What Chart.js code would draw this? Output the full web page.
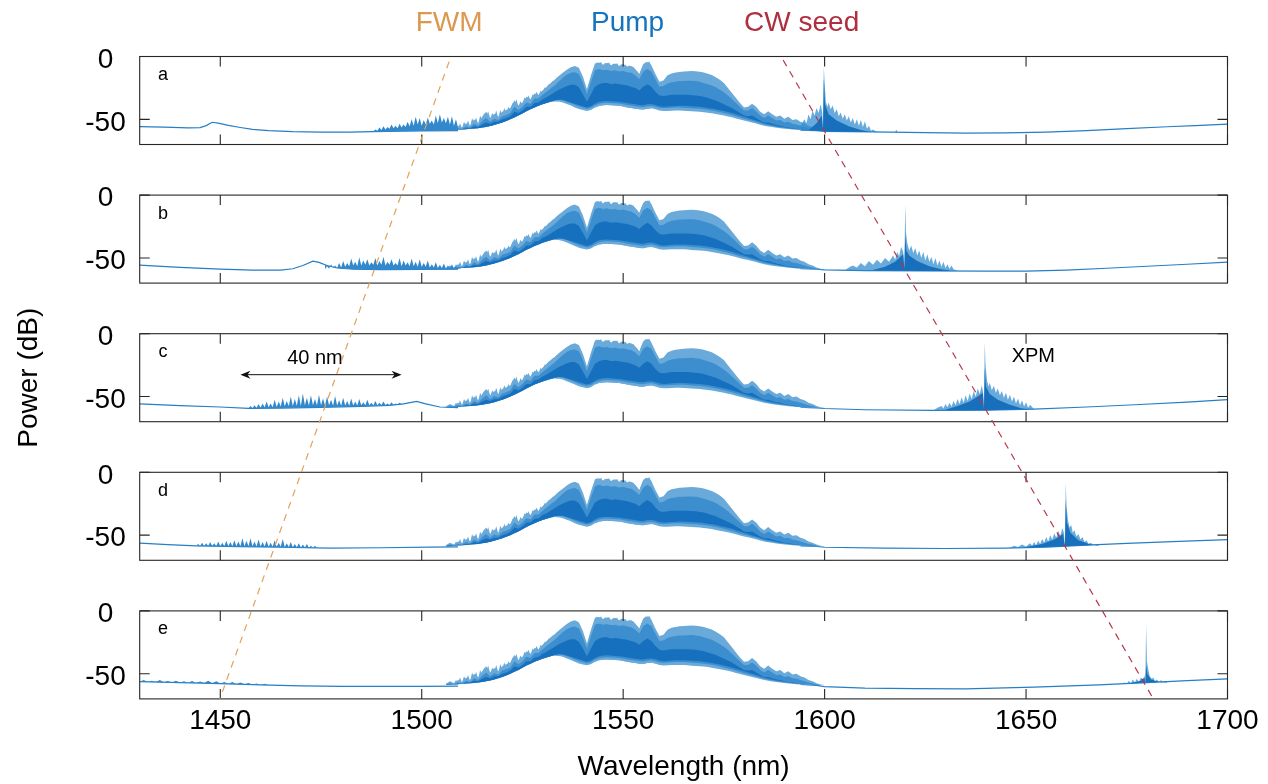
<!DOCTYPE html>
<html>
<head>
<meta charset="utf-8">
<script src="https://cdn.jsdelivr.net/npm/chart.js@4.4.0/dist/chart.umd.min.js"></script>
<style>
  html, body { margin: 0; padding: 0; background: #ffffff; }
  #wrap { position: relative; width: 1268px; height: 784px; overflow: hidden; background: #ffffff; }
  #wrap canvas { position: absolute; left: 0; }
</style>
</head>
<body>
<div id="wrap"></div>
<script>
// ---------------- DATA ----------------
const X_TICKS = [1450, 1500, 1550, 1600, 1650, 1700];
const Y_TICKS = [0, -50];
const PANEL_LETTERS = ['a', 'b', 'c', 'd', 'e'];
const TOP_LABELS = ['FWM', 'Pump', 'CW seed'];
const TOP_LABEL_WL = [1506.8, 1551.1, 1594.3];

// pump spectrum (same in all panels), dB
const PUMP_WL = [1506,1507,1508,1509,1510,1511,1512,1513,1514,1515,1516,1517,1518,1519,1520,1521,1522,1523,1524,1525,1526,1527,1528,1529,1530,1531,1532,1533,1534,1535,1536,1537,1538,1539,1540,1541,1542,1543,1544,1545,1546,1547,1548,1549,1550,1551,1552,1553,1554,1555,1556,1557,1558,1559,1560,1561,1562,1563,1564,1565,1566,1567,1568,1569,1570,1571,1572,1573,1574,1575,1576,1577,1578,1579,1580,1581,1582,1583,1584,1585,1586,1587,1588,1589,1590,1591,1592,1593,1594,1595,1596,1597,1598,1599,1600];
const PUMP_TOP = [-58,-56,-57.5,-55,-56.5,-53,-55,-50,-53,-48,-44,-49,-45.5,-48,-44,-42.5,-41,-35,-39,-36.5,-32,-34,-29.5,-30.5,-27,-24,-21,-18.5,-15.5,-13,-10.5,-8.5,-7.5,-9,-16,-26,-15,-5.5,-4.8,-6.5,-5,-7,-5.5,-7.5,-6,-8,-7.5,-10,-14,-6,-4.3,-7,-14,-20,-19,-15,-13.5,-12.8,-12.3,-12,-11.8,-11.6,-11.8,-12.2,-12.8,-13.8,-14.8,-16.5,-18.5,-21,-25,-29,-33,-37,-40.5,-40,-37.5,-40,-44,-46,-43.5,-46,-48,-47,-49.5,-48,-50.5,-50,-52,-53,-55,-56,-57.5,-58.5,-59];
const PUMP_BOT = [-59,-58.8,-58.5,-58.3,-58,-57.8,-57.5,-57.3,-57,-56.5,-56,-55.3,-54.5,-53.5,-52.5,-51.3,-50,-48.5,-47,-45.3,-43.5,-42,-40.5,-39.2,-38,-37,-36,-35.5,-35.8,-36.5,-37.8,-39,-40.5,-41.8,-42.6,-43.3,-42.5,-40.5,-39.3,-38.8,-38.6,-38.8,-39,-39.2,-39.8,-40.5,-41,-41.5,-42,-42.2,-41.5,-41.2,-42,-43,-43.4,-43.3,-43.1,-43,-43,-43.1,-43.3,-43.6,-43.8,-44,-44.3,-44.7,-45.2,-45.8,-46.4,-47,-47.7,-48.4,-49.3,-50.2,-51,-51.7,-52.5,-53.3,-54.2,-55,-55.6,-56.1,-56.6,-57,-57.4,-57.7,-58,-58.3,-58.5,-58.7,-58.8,-58.9,-59,-59,-59];
const PUMP_MTOP = [-58.5,-57.5,-58,-57,-57.5,-55.5,-56.5,-53.5,-55,-51.5,-49,-52,-49.5,-50.5,-47.5,-46.5,-45,-40,-42.5,-40,-36.5,-37.5,-33.5,-33.5,-30.5,-28,-25.5,-23,-20,-17,-14.5,-13,-12.5,-14,-21,-30,-20,-11,-10,-11,-10.5,-11.5,-11,-12,-11.5,-12.5,-13,-15,-18,-12,-10,-12,-18,-24,-23.5,-21.5,-20.5,-20,-19.5,-19.5,-19.3,-19.2,-19.5,-20,-21,-22,-23,-24.5,-26.5,-28.5,-31,-34,-37,-40,-43,-43,-41,-43.5,-47,-49,-47,-49,-51,-50.5,-52.5,-52,-53.5,-54,-55,-56,-57,-57.5,-58.5,-59,-59];
const PUMP_MBOT = [-58.8,-58.6,-58.3,-58.1,-57.8,-57.6,-57.3,-57.1,-56.8,-56.3,-55.8,-55.1,-54.3,-53.3,-52.3,-51.1,-49.8,-48.3,-46.8,-45.1,-43.3,-41.8,-40.3,-39,-37.8,-36.7,-35.6,-34.8,-34.5,-35,-36,-37.2,-38.6,-39.8,-40.8,-41.6,-40.8,-38.8,-37.6,-37,-36.8,-37,-37.2,-37.4,-38,-38.6,-39,-39.5,-40,-40.2,-39.6,-39.3,-40,-41,-41.2,-41,-40.8,-40.6,-40.6,-40.7,-40.9,-41.2,-41.4,-41.6,-42,-42.4,-42.9,-43.5,-44.2,-45,-45.8,-46.6,-47.6,-48.6,-49.5,-50.3,-51.2,-52.1,-53.1,-54,-54.7,-55.3,-55.9,-56.4,-56.8,-57.2,-57.6,-57.9,-58.2,-58.4,-58.6,-58.7,-58.9,-59,-59];
const PUMP_DTOP = [-58.8,-58.3,-58.3,-58,-57.8,-57,-57,-55.5,-56,-54,-52.5,-53.5,-52,-52,-50,-49,-47.5,-44,-45,-43,-40,-40,-37,-36.5,-34,-32.5,-30.5,-28.5,-26.5,-25,-23.5,-22.5,-22.5,-24.5,-30,-36,-30,-24,-22,-21,-21,-22,-21.5,-22,-22.5,-23,-24,-25,-27,-24,-22,-24,-28,-31,-31.5,-31,-30.5,-30.5,-30.5,-30.5,-30.5,-30.8,-31,-31.5,-32,-33,-34,-35,-36.5,-38,-39.5,-41,-43,-45,-47,-47.5,-47,-49,-51,-52.5,-52.5,-53.5,-54.5,-55,-56,-56.5,-57,-57.5,-58,-58.3,-58.5,-58.7,-58.9,-59,-59];
const PUMP_DBOT = [-59,-58.8,-58.5,-58.3,-58,-57.8,-57.5,-57.3,-57,-56.5,-56,-55.3,-54.5,-53.5,-52.5,-51.3,-50,-48.5,-47,-45.3,-43.5,-42,-40.5,-39.2,-38,-37,-36,-35,-34.5,-34.5,-35.5,-36.5,-37.5,-38.5,-39.5,-40.5,-39.5,-37.5,-36,-35.5,-35.3,-35.5,-35.8,-36,-36.5,-37,-37.5,-38,-38.5,-38.7,-38,-37.8,-38.5,-39.5,-40,-39.8,-39.5,-39.3,-39.2,-39.2,-39.4,-39.6,-39.8,-40,-40.4,-40.9,-41.4,-42,-42.7,-43.4,-44.2,-45,-46,-47,-48,-49,-50,-51,-52,-53,-53.8,-54.5,-55.2,-55.8,-56.3,-56.8,-57.3,-57.7,-58,-58.3,-58.5,-58.7,-58.9,-59,-59];
// fine spikes on the pump's upper edge [wavelength, dB]; null = no spikes
const PUMP_SPIKES = [[1508,-58],[1508.5,-55],[1509,-57],[1509.5,-53],[1510,-57],[1510.5,-52],[1511,-55],[1511.5,-51],[1512,-56],[1512.5,-49],[1513,-53],[1513.5,-48.5],[1514,-54],[1514.5,-47],[1515,-51],[1515.5,-45],[1516,-48],[1516.5,-43.5],[1517,-50],[1517.5,-45],[1518,-48],[1518.5,-43],[1519,-49],[1519.5,-42.5],[1520,-46],[1520.5,-41],[1521,-45],[1521.5,-40],[1522,-43],[1522.5,-37],[1523,-39],[1523.5,-34],[1524,-40],[1524.5,-35.5],[1525,-38],[1525.5,-32.5],[1526,-35],[1526.5,-31],[1527,-35],[1527.5,-30],[1528,-32],[1528.5,-28],[1529,-31.5],[1529.5,-27],[1530,-29],[1530.5,-24.5],[1531,-26],[1531.5,-22],[1532,-23],[1532.5,-19.5],[1533,-20.5],[1533.5,-17],[1534,-17],[1538,null],[1543,-7],[1543.5,-4.5],[1544,-6.5],[1544.5,-4.2],[1545,-7.5],[1545.5,-5],[1546,-6.5],[1546.5,-4.6],[1547,-8],[1547.5,-5.5],[1548,-7],[1548.5,-5.2],[1549,-8.5],[1549.5,-6],[1550,-8],[1550.5,-6.3],[1551,-9],[1551.5,-7],[1552,-9],[1552.5,-8],[1553,-11],[1553.5,-12],[1554,-15],[1554.5,-10],[1555,-7],[1555.5,-4.5],[1556,-5],[1556.5,-4],[1557,-7.5]];

// baselines [wavelength, dB]; null = hidden under the pump
const BASE_A = [[1430,-55.8],[1436,-56.2],[1442,-56.8],[1445,-56.6],[1446.5,-55],[1448,-52.3],[1449.5,-53],[1452,-54.8],[1455,-56.5],[1458,-58],[1462,-59],[1468,-59.8],[1475,-60.2],[1482,-60.2],[1488,-59.8],[1495,-59.4],[1500,-59.2],[1509,-59],[1550,null],[1594,-58.5],[1596,-58.8],[1598,-59],[1600,-59.5],[1612,-60],[1625,-60.6],[1635,-60.9],[1645,-60.7],[1655,-60.2],[1665,-59],[1675,-57.4],[1685,-55.9],[1692,-55],[1700,-53.8]];
const BASE_B = [[1430,-55.7],[1440,-57.5],[1450,-58.9],[1458,-59.6],[1465,-59.6],[1468,-58.6],[1470.5,-56],[1473,-52.5],[1474.5,-53.5],[1476.5,-56],[1479,-58],[1483,-59],[1490,-59.3],[1509,-59],[1550,null],[1594,-58.5],[1596,-58.8],[1598,-59],[1600,-59.5],[1610,-60],[1625,-60.3],[1640,-60.4],[1650,-60.5],[1660,-59.6],[1670,-58.2],[1680,-56.6],[1690,-55],[1700,-53.3]];
const BASE_C = [[1430,-55.9],[1440,-57.2],[1450,-58.3],[1457,-59.4],[1465,-59.2],[1475,-58.6],[1485,-57.8],[1492,-57],[1495.5,-55.8],[1498.7,-53.8],[1501,-55.8],[1504.5,-58.3],[1509,-58.8],[1550,null],[1594,-58.5],[1596,-58.8],[1598,-59],[1600,-59.5],[1610,-60.5],[1627,-61],[1640,-60.8],[1652,-60],[1665,-58.3],[1677,-56.5],[1690,-54.5],[1700,-52.5]];
const BASE_D = [[1430,-56.4],[1437,-57.5],[1444,-58.5],[1455,-59.2],[1465,-59.6],[1477,-60.3],[1490,-60],[1502,-59.5],[1509,-59.3],[1550,null],[1594,-58.5],[1596,-58.8],[1598,-59],[1600,-59.6],[1615,-60.3],[1630,-60.6],[1645,-60.3],[1655,-59.5],[1665,-58],[1675,-56.6],[1688,-55],[1700,-53.5]];
const BASE_E = [[1430,-56.3],[1440,-57],[1450,-57.8],[1460,-58.8],[1470,-59.7],[1480,-60],[1500,-60],[1509,-59.8],[1550,null],[1594,-58.5],[1596,-58.8],[1598,-59.2],[1600,-60.2],[1610,-61.5],[1622,-61.9],[1635,-62],[1652,-60.7],[1668,-58.9],[1680,-57],[1690,-55.5],[1700,-54.1]];

// FWM noise envelopes [wavelength, dB]
const NOISE_A = [[1488,-59.5],[1488.5,-58],[1489,-59],[1489.5,-56.5],[1490,-58.5],[1490.5,-55.5],[1491,-58],[1491.5,-56],[1492,-57.5],[1492.5,-54],[1493,-57],[1493.5,-55],[1494,-57],[1494.5,-53.5],[1495,-56.5],[1495.5,-54],[1496,-56],[1496.5,-52],[1497,-55.5],[1497.5,-50],[1498,-55],[1498.5,-48],[1499,-54],[1499.5,-49],[1500,-55],[1500.5,-50.5],[1501,-54],[1501.5,-48.5],[1502,-53.5],[1502.5,-51],[1503,-54],[1503.5,-47],[1504,-53],[1504.5,-46],[1505,-52.5],[1505.5,-49],[1506,-53],[1506.5,-48],[1507,-54],[1507.5,-47.5],[1508,-55],[1508.5,-50],[1509,-56.5]];
const NOISE_B = [[1476,-59],[1476.5,-56.5],[1477,-58.5],[1477.5,-55],[1478,-58],[1478.5,-56],[1479,-58],[1479.5,-54],[1480,-57.5],[1480.5,-52.5],[1481,-57],[1481.5,-54],[1482,-56.5],[1482.5,-50.5],[1483,-56],[1483.5,-53],[1484,-56.5],[1484.5,-49.5],[1485,-56],[1485.5,-52],[1486,-55.5],[1486.5,-51],[1487,-56],[1487.5,-53.5],[1488,-55.5],[1488.5,-50],[1489,-56],[1489.5,-52.5],[1490,-55.5],[1490.5,-49],[1491,-56],[1491.5,-53],[1492,-55.5],[1492.5,-51],[1493,-56],[1493.5,-54],[1494,-56],[1494.5,-50],[1495,-56.5],[1495.5,-52],[1496,-56],[1496.5,-53.5],[1497,-56.5],[1497.5,-50.5],[1498,-56.5],[1498.5,-53],[1499,-57],[1499.5,-51],[1500,-57],[1500.5,-54],[1501,-57],[1501.5,-52],[1502,-57.5],[1502.5,-55],[1503,-57.5],[1503.5,-53.5],[1504,-58],[1504.5,-55.5],[1505,-58],[1505.5,-54.5],[1506,-58.3],[1506.5,-56],[1507,-58.5],[1507.5,-55],[1508,-58.5],[1508.5,-56.5],[1509,-58.5]];
const NOISE_C = [[1457,-59.4],[1457.5,-57.5],[1458,-59.3],[1458.5,-57],[1459,-59.2],[1459.5,-56],[1460,-59],[1460.5,-55.5],[1461,-58.8],[1461.5,-54],[1462,-58.6],[1462.5,-55.5],[1463,-58.5],[1463.5,-52.5],[1464,-58.3],[1464.5,-54],[1465,-58],[1465.5,-51],[1466,-57.8],[1466.5,-53.5],[1467,-57.5],[1467.5,-50],[1468,-57.5],[1468.5,-52],[1469,-57.3],[1469.5,-49],[1470,-57.5],[1470.5,-47.5],[1471,-57],[1471.5,-51],[1472,-57.2],[1472.5,-49],[1473,-57],[1473.5,-52],[1474,-57],[1474.5,-48.5],[1475,-57],[1475.5,-51.5],[1476,-57.2],[1476.5,-50],[1477,-57],[1477.5,-52.5],[1478,-57.3],[1478.5,-49.5],[1479,-57.2],[1479.5,-53],[1480,-57.3],[1480.5,-51],[1481,-57.2],[1481.5,-53.5],[1482,-57.3],[1482.5,-51.5],[1483,-57.2],[1483.5,-54],[1484,-57.2],[1484.5,-52],[1485,-57],[1485.5,-54.5],[1486,-57],[1486.5,-52.5],[1487,-57],[1487.5,-55],[1488,-57],[1488.5,-53.5],[1489,-57],[1489.5,-55],[1490,-56.8],[1490.5,-54],[1491,-56.8],[1491.5,-55.5],[1492,-56.7],[1492.5,-54.5],[1493,-56.5],[1493.5,-55.5],[1494,-56.3],[1494.5,-55],[1495,-56.2],[1496,-55.8]];
const NOISE_D = [[1444,-58.5],[1444.5,-57],[1445,-58.5],[1445.5,-56],[1446,-58.6],[1446.5,-56.5],[1447,-58.7],[1447.5,-55.5],[1448,-58.7],[1448.5,-56.5],[1449,-58.8],[1449.5,-55],[1450,-58.8],[1450.5,-56],[1451,-58.8],[1451.5,-54.5],[1452,-58.8],[1452.5,-55.5],[1453,-58.8],[1453.5,-54],[1454,-58.9],[1454.5,-55],[1455,-58.8],[1455.5,-52.5],[1456,-58.8],[1456.5,-54.5],[1457,-58.8],[1457.5,-52.5],[1458,-58.9],[1458.5,-55],[1459,-59],[1459.5,-53.5],[1460,-59],[1460.5,-55.5],[1461,-59],[1461.5,-54.5],[1462,-59.2],[1462.5,-56],[1463,-59.2],[1463.5,-54],[1464,-59.3],[1464.5,-56],[1465,-59.3],[1465.5,-53],[1466,-59.4],[1466.5,-56.5],[1467,-59.5],[1467.5,-55.5],[1468,-59.6],[1468.5,-57],[1469,-59.7],[1469.5,-56.5],[1470,-59.8],[1470.5,-57.5],[1471,-59.9],[1471.5,-57],[1472,-60],[1472.5,-58.5],[1473,-60],[1473.5,-58.5],[1474,-60.2]];
const NOISE_E = [[1430,-56.3],[1431,-55],[1432,-56.5],[1433,-55.5],[1434,-56.6],[1435,-55],[1436,-56.8],[1437,-55.8],[1438,-57],[1439,-55.5],[1440,-57],[1441,-56],[1442,-57.2],[1443,-55.8],[1444,-57.3],[1445,-56.2],[1446,-57.4],[1447,-55.5],[1448,-57.6],[1449,-56],[1450,-57.8],[1451,-56.5],[1452,-58],[1453,-56.5],[1454,-58.2],[1455,-57],[1456,-58.4],[1457,-57.3],[1458,-58.6],[1459,-57.8],[1460,-58.8],[1461,-58],[1462,-59],[1464,-59.2]];

// CW seed and XPM sidebands [wavelength, dB]
const SEED_A = [[1594,-55],[1595,-50],[1595.5,-53],[1596,-46],[1596.5,-50],[1597,-43],[1597.5,-47],[1598,-41],[1598.5,-45],[1599,-38],[1599.4,-44],[1599.6,-59],[1599.8,-8.1],[1600,-20],[1600.3,-36],[1600.7,-40],[1601,-36.5],[1601.5,-42],[1602,-39],[1602.5,-45],[1603,-42],[1603.5,-47.5],[1604,-44.5],[1604.5,-49.5],[1605,-46],[1605.5,-51],[1606,-47.5],[1606.5,-52.5],[1607,-49],[1607.5,-54],[1608,-50],[1608.5,-55],[1609,-50.5],[1609.5,-56],[1610,-51.5],[1610.5,-57.5],[1611,-55],[1611.5,-59],[1612,-58],[1613,-60],[1617.5,-60.3],[1617.8,-58],[1618.1,-60.4]];
const SEED_A_DARK = [[1596,-58.6],[1598,-53],[1599.3,-47],[1599.6,-59],[1599.8,-17.4],[1600.1,-38],[1601,-46],[1603,-51],[1606,-55.5],[1609,-58.5],[1611,-59.8]];
const SEED_B = [[1605,-59.8],[1606,-57.5],[1607,-56],[1608,-57.5],[1609,-54],[1610,-56.5],[1611,-52.5],[1612,-55.5],[1613,-51.5],[1614,-54.5],[1615,-50],[1616,-53],[1617,-48],[1617.5,-51.5],[1618,-45],[1618.5,-48.5],[1619,-41],[1619.5,-45],[1619.8,-58],[1620,-7.2],[1620.2,-30],[1620.5,-38],[1621,-44],[1621.5,-40],[1622,-46],[1622.5,-42],[1623,-48],[1623.5,-44],[1624,-50],[1624.5,-45],[1625,-52],[1625.5,-47],[1626,-53],[1626.5,-49],[1627,-55],[1627.5,-50],[1628,-56],[1628.5,-52],[1629,-57],[1629.5,-53],[1630,-58],[1630.5,-55],[1631,-58.5],[1631.5,-56],[1632,-59],[1633,-60.2]];
const SEED_B_DARK = [[1612,-59.5],[1615,-57],[1617.5,-53],[1619.5,-47],[1619.8,-59],[1620,-31.8],[1620.3,-44],[1621,-48],[1623,-52.5],[1626,-56.5],[1629,-59],[1631,-60]];
const SEED_C = [[1627,-61],[1628,-59],[1629,-57.5],[1629.5,-59.5],[1630,-56],[1630.5,-58.5],[1631,-55],[1631.5,-58],[1632,-53.5],[1632.5,-57],[1633,-52],[1633.5,-56],[1634,-50.5],[1634.5,-55],[1635,-49],[1635.5,-53.5],[1636,-47.5],[1636.5,-52],[1637,-45.5],[1637.5,-50],[1638,-43.5],[1638.5,-48],[1639,-41],[1639.3,-46],[1639.55,-60.5],[1639.75,-6.9],[1639.95,-25],[1640.3,-37],[1640.7,-42],[1641,-39],[1641.5,-45],[1642,-41.5],[1642.5,-47],[1643,-43.5],[1643.5,-49],[1644,-45.5],[1644.5,-51],[1645,-47],[1645.5,-52.5],[1646,-48.5],[1646.5,-54],[1647,-50],[1647.5,-55.5],[1648,-51.5],[1648.5,-57],[1649,-53],[1649.5,-58],[1650,-54.5],[1650.5,-59],[1651,-56.5],[1652,-60]];
const SEED_C_DARK = [[1630,-60.5],[1633,-57.5],[1636,-54],[1638,-50],[1639.3,-47],[1639.55,-60.5],[1639.75,-27.3],[1640.05,-42],[1641,-48],[1643,-52.5],[1646,-56.5],[1649,-59.5],[1651,-60.2]];
const SEED_D = [[1646,-60],[1647,-58.5],[1648,-59.5],[1649,-57.5],[1650,-59],[1651,-56.5],[1651.5,-58.5],[1652,-55.5],[1652.5,-58],[1653,-54.5],[1653.5,-57],[1654,-53],[1654.5,-56],[1655,-51.5],[1655.5,-55],[1656,-50],[1656.5,-53.5],[1657,-48.5],[1657.5,-52],[1658,-46.5],[1658.5,-50.5],[1659,-44.5],[1659.4,-48],[1659.65,-59],[1659.85,-8.4],[1660.05,-27],[1660.4,-38],[1660.8,-44],[1661.2,-42],[1661.6,-48],[1662,-46],[1662.5,-51],[1663,-49],[1663.5,-53.5],[1664,-51.5],[1664.5,-55.5],[1665,-54],[1665.5,-57],[1666,-56],[1667,-58],[1668,-58.3]];
const SEED_D_DARK = [[1650,-59.5],[1654,-57],[1657,-53.5],[1659.2,-49],[1659.65,-59],[1659.85,-22],[1660.15,-40],[1661,-48],[1663,-54],[1666,-57.5],[1668,-58.3]];
const SEED_E = [[1673,-58.5],[1674.5,-57],[1675,-58],[1675.5,-55.5],[1676,-57.5],[1676.5,-54.5],[1677,-57],[1677.5,-54],[1678,-56.5],[1678.5,-53],[1679,-55.5],[1679.4,-51],[1679.6,-57.5],[1679.8,-11.1],[1680,-40],[1680.3,-46],[1680.7,-52],[1681.2,-54],[1681.6,-53],[1682,-56],[1682.5,-54.5],[1683,-56.5],[1683.5,-55],[1684,-56.8],[1684.5,-56],[1685.5,-56.8]];
const SEED_E_DARK = [[1676,-57.5],[1678.5,-55.5],[1679.4,-53],[1679.6,-57.5],[1679.8,-43],[1680.1,-50],[1681,-54.5],[1683,-56.5],[1685,-56.9]];

// guide lines: [wavelength, panel index, dB within that panel]
const FWM_GUIDE = [[1506.8, 0, -4.1], [1449.9, 4, -70]];
const CW_GUIDE = [[1589.7, 0, -2.8], [1681.6, 4, -70]];

// panel c annotations
const NOTE_TEXT = ['40 nm', 'XPM'];
const NOTE_WL = [1473.5, 1651.8];
const NOTE_DB = [-19.4, -18.5];
const ARROW_WL = [1455, 1495];
const ARROW_DB = -32.6;

// ---------------- LAYOUT / STYLE ----------------
const W = 1268, H = 784;
const LAYOUT = { left: 139.7, right: 1227.5, top0: 56.5, pitch: 138.6, height: 88, margin: 36 };
const X_MIN = 1430, X_MAX = 1700, Y_MIN = -70, Y_MAX = 0;
const PITCH_DB = LAYOUT.pitch * (Y_MAX - Y_MIN) / LAYOUT.height;
const LETTER_AT = { wl: 1435.8, db: -14.7 };
const TOP_LABEL_DB = 26.5;
const FONT = '"Liberation Sans", Arial, Helvetica, sans-serif';
const C = {
  base: 'rgb(38,126,197)',
  light: 'rgb(106,170,218)',
  medium: 'rgb(60,142,207)',
  dark: 'rgb(22,112,189)',
  noise: 'rgb(50,136,204)',
  seedLight: 'rgba(45,138,208,0.72)',
  seedDark: 'rgb(24,112,188)',
  frame: '#262626',
  fwm: 'rgb(219,152,78)',
  pump: 'rgb(22,116,190)',
  cw: 'rgb(176,46,62)',
  fwmLine: 'rgb(226,160,92)',
  cwLine: 'rgb(184,52,72)'
};
const TOP_LABEL_COLORS = [C.fwm, C.pump, C.cw];

Chart.defaults.font.family = FONT;
Chart.defaults.color = '#000';

const wrap = document.getElementById('wrap');
function makeCanvas(top, h, z) {
  const c = document.createElement('canvas');
  c.width = W; c.height = h;
  c.style.top = top + 'px'; c.style.width = W + 'px'; c.style.height = h + 'px';
  c.style.zIndex = z;
  wrap.appendChild(c);
  return c;
}
const pts = (xs, ys) => xs.map((x, i) => ({ x: x, y: ys[i] }));
const pairs = a => a.map(p => ({ x: p[0], y: p[1] }));

const PANELS = [
  { base: BASE_A, noise: NOISE_A, seed: SEED_A, seedDark: SEED_A_DARK },
  { base: BASE_B, noise: NOISE_B, seed: SEED_B, seedDark: SEED_B_DARK },
  { base: BASE_C, noise: NOISE_C, seed: SEED_C, seedDark: SEED_C_DARK, notes: true },
  { base: BASE_D, noise: NOISE_D, seed: SEED_D, seedDark: SEED_D_DARK },
  { base: BASE_E, noise: NOISE_E, seed: SEED_E, seedDark: SEED_E_DARK }
];

function makeDeco(idx, panel) {
  return {
    id: 'deco' + idx,
    afterDatasetsDraw(chart) {
      const { ctx, chartArea: a, scales } = chart;
      const x = scales.x, y = scales.y;
      ctx.save();
      ctx.strokeStyle = C.frame;
      ctx.lineWidth = 1.1;
      ctx.strokeRect(a.left, a.top, a.right - a.left, a.bottom - a.top);
      ctx.beginPath();
      X_TICKS.forEach(v => {
        const px = x.getPixelForValue(v);
        ctx.moveTo(px, a.top); ctx.lineTo(px, a.top + 10);
        ctx.moveTo(px, a.bottom); ctx.lineTo(px, a.bottom - 10);
      });
      Y_TICKS.forEach(v => {
        const py = y.getPixelForValue(v);
        ctx.moveTo(a.left, py); ctx.lineTo(a.left + 10, py);
        ctx.moveTo(a.right, py); ctx.lineTo(a.right - 10, py);
      });
      ctx.stroke();
      ctx.fillStyle = '#000';
      ctx.textAlign = 'center';
      ctx.textBaseline = 'middle';
      ctx.font = '18px ' + FONT;
      ctx.fillText(PANEL_LETTERS[idx], x.getPixelForValue(LETTER_AT.wl), y.getPixelForValue(LETTER_AT.db));
      if (panel.notes) {
        ctx.font = '20px ' + FONT;
        NOTE_TEXT.forEach((t, i) => ctx.fillText(t, x.getPixelForValue(NOTE_WL[i]), y.getPixelForValue(NOTE_DB[i])));
        const x1 = x.getPixelForValue(ARROW_WL[0]), x2 = x.getPixelForValue(ARROW_WL[1]);
        const ay = y.getPixelForValue(ARROW_DB);
        ctx.strokeStyle = '#111'; ctx.lineWidth = 1;
        ctx.beginPath(); ctx.moveTo(x1 + 4, ay); ctx.lineTo(x2 - 4, ay); ctx.stroke();
        ctx.fillStyle = '#111';
        ctx.beginPath(); ctx.moveTo(x1, ay); ctx.lineTo(x1 + 10, ay - 4); ctx.lineTo(x1 + 7, ay); ctx.lineTo(x1 + 10, ay + 4); ctx.closePath(); ctx.fill();
        ctx.beginPath(); ctx.moveTo(x2, ay); ctx.lineTo(x2 - 10, ay - 4); ctx.lineTo(x2 - 7, ay); ctx.lineTo(x2 - 10, ay + 4); ctx.closePath(); ctx.fill();
      }
      ctx.restore();
    }
  };
}

const common = { pointRadius: 0, tension: 0, spanGaps: true };
PANELS.forEach((p, i) => {
  const top = LAYOUT.top0 + i * LAYOUT.pitch;
  const cTop = Math.floor(top) - LAYOUT.margin;
  const cH = LAYOUT.height + 2 * LAYOUT.margin;
  const padTop = top - cTop;
  const canvas = makeCanvas(cTop, cH, 1 + i);
  const ds = o => Object.assign({}, common, o);
  const datasets = [
    ds({ data: pairs(p.base), borderColor: C.base, borderWidth: 1.2, fill: false, spanGaps: false, order: 20 }),
    ds({ data: pts(PUMP_WL, PUMP_BOT), borderWidth: 0, fill: false, order: 19 }),
    ds({ data: pts(PUMP_WL, PUMP_TOP), borderWidth: 0, fill: { target: 1 }, backgroundColor: C.light, order: 18 }),
    ds({ data: pts(PUMP_WL, PUMP_MBOT), borderWidth: 0, fill: false, order: 17 }),
    ds({ data: pts(PUMP_WL, PUMP_MTOP), borderWidth: 0, fill: { target: 3 }, backgroundColor: C.medium, order: 16 }),
    ds({ data: pts(PUMP_WL, PUMP_DBOT), borderWidth: 0, fill: false, order: 15 }),
    ds({ data: pts(PUMP_WL, PUMP_DTOP), borderWidth: 0, fill: { target: 5 }, backgroundColor: C.dark, order: 14 }),
    ds({ data: pairs(p.noise), borderWidth: 0, fill: { target: 0 }, backgroundColor: C.noise, order: 13 }),
    ds({ data: pairs(p.seed), borderWidth: 0, fill: { target: 0 }, backgroundColor: C.seedLight, order: 12 }),
    ds({ data: pairs(p.seedDark), borderWidth: 0, fill: { target: 0 }, backgroundColor: C.seedDark, order: 11 }),
    ds({ data: pairs(PUMP_SPIKES), borderWidth: 0, fill: { target: 1 }, backgroundColor: C.light, spanGaps: false, order: 17.5 })
  ];
  new Chart(canvas, {
    type: 'line',
    data: { datasets: datasets },
    options: {
      responsive: false, animation: false, events: [],
      layout: { padding: { top: padTop, bottom: cH - padTop - LAYOUT.height, left: 0, right: W - LAYOUT.right } },
      plugins: { legend: { display: false }, tooltip: { enabled: false } },
      scales: {
        x: { type: 'linear', min: X_MIN, max: X_MAX, display: false },
        y: {
          type: 'linear', min: Y_MIN, max: Y_MAX, position: 'left',
          grid: { display: false, drawTicks: false }, border: { display: false },
          afterBuildTicks: s => { s.ticks = Y_TICKS.map(v => ({ value: v })); },
          ticks: { font: { size: 28 }, color: '#000', padding: 14, crossAlign: 'center', labelOffset: 3.5, callback: v => String(v) },
          afterFit: s => { s.width = LAYOUT.left; }
        }
      }
    },
    plugins: [makeDeco(i, p)]
  });
});

// overlay: guide lines, top labels, shared axis labels
const toStack = g => g.map(q => ({ x: q[0], y: -q[1] * PITCH_DB + q[2] }));
const overlayCanvas = makeCanvas(0, H, 10);
const topLabels = {
  id: 'topLabels',
  afterDraw(chart) {
    const { ctx, scales } = chart;
    ctx.save();
    ctx.font = '28px ' + FONT;
    ctx.textAlign = 'center';
    ctx.textBaseline = 'middle';
    TOP_LABELS.forEach((t, i) => {
      ctx.fillStyle = TOP_LABEL_COLORS[i];
      ctx.fillText(t, scales.x.getPixelForValue(TOP_LABEL_WL[i]), scales.y.getPixelForValue(TOP_LABEL_DB));
    });
    ctx.restore();
  }
};
const bottomEdge = LAYOUT.top0 + 4 * LAYOUT.pitch + LAYOUT.height;
new Chart(overlayCanvas, {
  type: 'line',
  data: {
    datasets: [
      { data: toStack(FWM_GUIDE), borderColor: C.fwmLine, borderWidth: 1.2, borderDash: [7, 6], pointRadius: 0, fill: false, clip: false },
      { data: toStack(CW_GUIDE), borderColor: C.cwLine, borderWidth: 1.2, borderDash: [7, 6], pointRadius: 0, fill: false, clip: false }
    ]
  },
  options: {
    responsive: false, animation: false, events: [],
    layout: { padding: { top: LAYOUT.top0, right: W - LAYOUT.right, left: 0, bottom: 0 } },
    plugins: { legend: { display: false }, tooltip: { enabled: false } },
    scales: {
      x: {
        type: 'linear', min: X_MIN, max: X_MAX, position: 'bottom',
        grid: { display: false, drawTicks: false }, border: { display: false },
        afterBuildTicks: s => { s.ticks = X_TICKS.map(v => ({ value: v })); },
        ticks: { font: { size: 28 }, color: '#000', padding: 6, maxRotation: 0, autoSkip: false, callback: v => String(v) },
        title: { display: true, text: 'Wavelength (nm)', font: { size: 28 }, color: '#000', padding: { top: 0, bottom: 0 } },
        afterFit: s => { s.height = H - bottomEdge; }
      },
      y: {
        type: 'linear', min: -(4 * PITCH_DB + (Y_MAX - Y_MIN)), max: 0, position: 'left',
        grid: { display: false, drawTicks: false }, border: { display: false },
        ticks: { display: false },
        title: { display: true, text: 'Power (dB)', font: { size: 28 }, color: '#000', padding: { top: 12, bottom: 0 } },
        afterFit: s => { s.width = LAYOUT.left; }
      }
    }
  },
  plugins: [topLabels]
});
</script>
</body>
</html>
